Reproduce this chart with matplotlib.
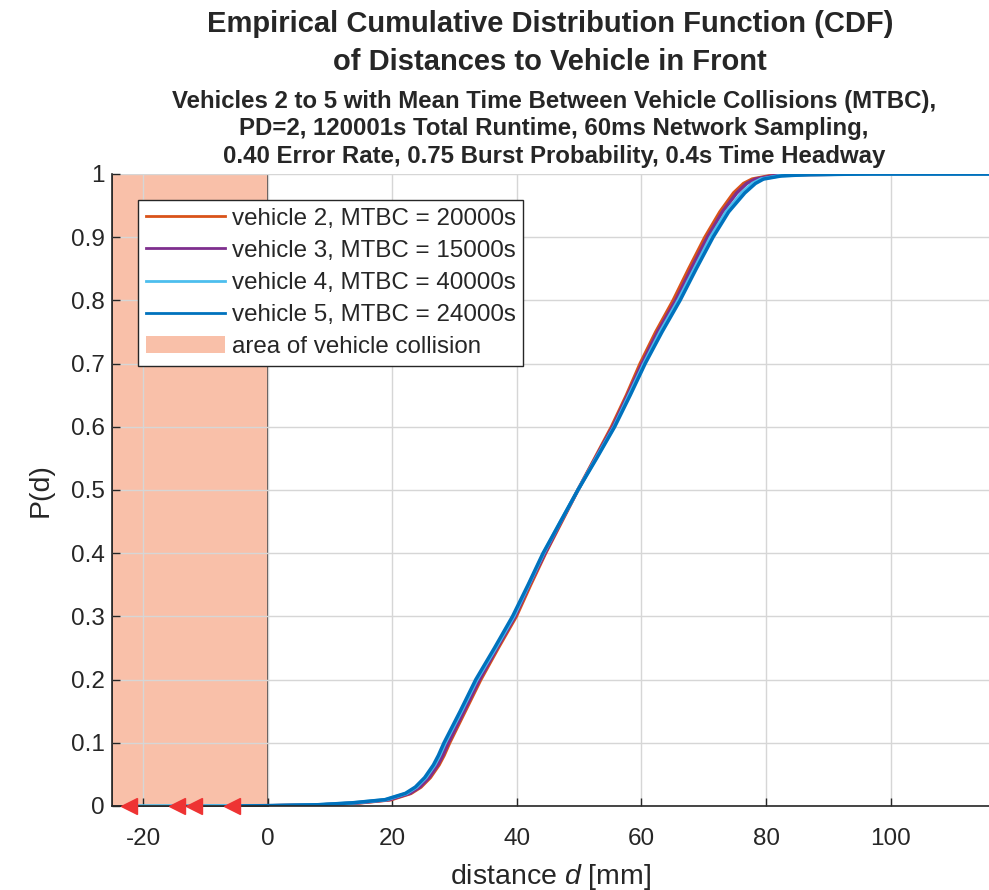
import matplotlib
matplotlib.use('Agg')
import matplotlib.pyplot as plt
from matplotlib.patches import Patch
import numpy as np

plt.rcParams['font.family'] = ['Liberation Sans', 'DejaVu Sans']
plt.rcParams['mathtext.fontset'] = 'custom'
plt.rcParams['mathtext.rm'] = 'Liberation Sans'
plt.rcParams['mathtext.it'] = 'Liberation Sans:italic'
plt.rcParams['axes.unicode_minus'] = False

# cumulative probability levels (shared by all vehicles)
p_levels = [0, 0.0005, 0.002, 0.005, 0.01, 0.02, 0.03, 0.045, 0.065, 0.08, 0.1, 0.15,
            0.2, 0.25, 0.3, 0.35, 0.4, 0.45, 0.5, 0.55, 0.6, 0.65, 0.7, 0.75, 0.8,
            0.85, 0.9, 0.94, 0.97, 0.985, 0.992, 0.997, 0.999, 1.0, 1.0]

# distance [mm] at each probability level
d_v2 = [-14.6, 1.0, 9.0, 14.8, 19.8, 23.0, 24.6, 26.1, 27.5, 28.3, 29.2, 31.7,
        34.2, 37.0, 39.9, 42.2, 44.6, 47.2, 49.8, 52.5, 55.2, 57.6, 59.8, 62.3,
        65.1, 67.6, 70.2, 72.6, 74.8, 76.4, 77.8, 80.5, 85.0, 95.0, 118.0]
d_v3 = [-11.9, 0.8, 9.0, 14.5, 19.5, 22.8, 24.4, 25.9, 27.3, 28.1, 29.0, 31.5,
        34.0, 36.8, 39.7, 42.0, 44.5, 47.1, 49.8, 52.6, 55.4, 57.8, 60.1, 62.6,
        65.5, 68.0, 70.6, 73.0, 75.3, 76.9, 78.3, 81.0, 85.5, 95.5, 118.0]
d_v4 = [-22.3, 0.2, 8.3, 13.8, 19.0, 22.3, 23.9, 25.4, 26.8, 27.6, 28.5, 31.1,
        33.6, 36.6, 39.5, 41.9, 44.3, 47.0, 49.8, 52.7, 55.6, 58.0, 60.4, 63.0,
        65.9, 68.5, 71.1, 73.6, 76.1, 77.8, 79.2, 82.0, 86.5, 96.5, 118.0]
d_v5 = [-5.8, 0.0, 8.0, 13.5, 18.8, 22.1, 23.7, 25.2, 26.6, 27.4, 28.3, 30.9,
        33.4, 36.4, 39.3, 41.8, 44.2, 47.0, 49.8, 52.8, 55.7, 58.2, 60.6, 63.3,
        66.2, 68.8, 71.5, 74.0, 76.6, 78.3, 79.6, 82.5, 87.0, 97.0, 118.0]

labels = ['vehicle 2, MTBC = 20000s', 'vehicle 3, MTBC = 15000s',
          'vehicle 4, MTBC = 40000s', 'vehicle 5, MTBC = 24000s']
colors = ['#d95319', '#7e2f8e', '#4dbeee', '#0072bd']
collision_area = [-25, 0]

fig = plt.figure(figsize=(9.89, 8.90), dpi=100)
ax = fig.add_axes([112/989, 84/890, 877/989, 632/890])

dark = '#262626'
# collision area
ax.fill_between(collision_area, 0, 1, facecolor='#f9c0a9', edgecolor='#333333',
                linewidth=1.2, zorder=0.1)

all_d = [d_v2, d_v3, d_v4, d_v5]
for d, c, lab in zip(all_d, colors, labels):
    ax.plot(d, p_levels, color=c, linewidth=2.5, label=lab, zorder=2,
            solid_joinstyle='round')

# minimum distances (collisions) marked with red triangles
mins = [d[0] for d in all_d]
ax.plot(mins, np.zeros(len(mins)), linestyle='none', marker='<', markersize=11,
        color='#ee3333', zorder=5, clip_on=False)

ax.set_xlim(-25, 115.8)
ax.set_ylim(0, 1)
ax.set_xticks(np.arange(-20, 101, 20))
ax.set_yticks(np.round(np.arange(0, 1.01, 0.1), 1))
ax.set_yticklabels(['0', '0.1', '0.2', '0.3', '0.4', '0.5', '0.6', '0.7', '0.8', '0.9', '1'])
ax.set_axisbelow(True)
ax.grid(True, color='#d6d6d6', linewidth=1.0)
ax.tick_params(direction='in', length=6, width=1, colors=dark, labelsize=17.5,
               labelcolor=dark)
ax.tick_params(axis='x', pad=16)
ax.tick_params(axis='y', pad=5)
for s in ['top', 'right']:
    ax.spines[s].set_visible(False)
for s in ['left', 'bottom']:
    ax.spines[s].set_color(dark)
    ax.spines[s].set_linewidth(1.2)

ax.set_xlabel('distance $d$ [mm]', fontsize=20.5, color=dark)
ax.xaxis.set_label_coords(0.5, -0.088)
ax.set_ylabel('P(d)', fontsize=20.5, color=dark)
ax.yaxis.set_label_coords(-0.067, 0.5)

handles, _ = ax.get_legend_handles_labels()
handles.append(Patch(facecolor='#f9c0a9', edgecolor='none'))
leg = ax.legend(handles, labels + ['area of vehicle collision'], loc='upper left',
                bbox_to_anchor=(26/877, (806-200)/632), borderaxespad=0,
                fontsize=17.4, handlelength=3.3, handletextpad=0.25,
                labelspacing=0.42, borderpad=0.32, fancybox=False, framealpha=1)
leg.get_frame().set_edgecolor(dark)
leg.get_frame().set_linewidth(1.0)
for t in leg.get_texts():
    t.set_color(dark)
for h in leg.legend_handles[:4]:
    h.set_linewidth(2.0)

fig.text(550/989, 1 - 43/890,
         'Empirical Cumulative Distribution Function (CDF)\nof Distances to Vehicle in Front',
         ha='center', va='center', fontsize=21, fontweight='bold', color=dark,
         linespacing=1.43)
fig.text(554/989, 1 - 129/890,
         'Vehicles 2 to 5 with Mean Time Between Vehicle Collisions (MTBC),\n'
         'PD=2, 120001s Total Runtime, 60ms Network Sampling,\n'
         '0.40 Error Rate, 0.75 Burst Probability, 0.4s Time Headway',
         ha='center', va='center', fontsize=17.3, fontweight='bold', color=dark,
         linespacing=1.25)

fig.savefig('out.png', dpi=100)
